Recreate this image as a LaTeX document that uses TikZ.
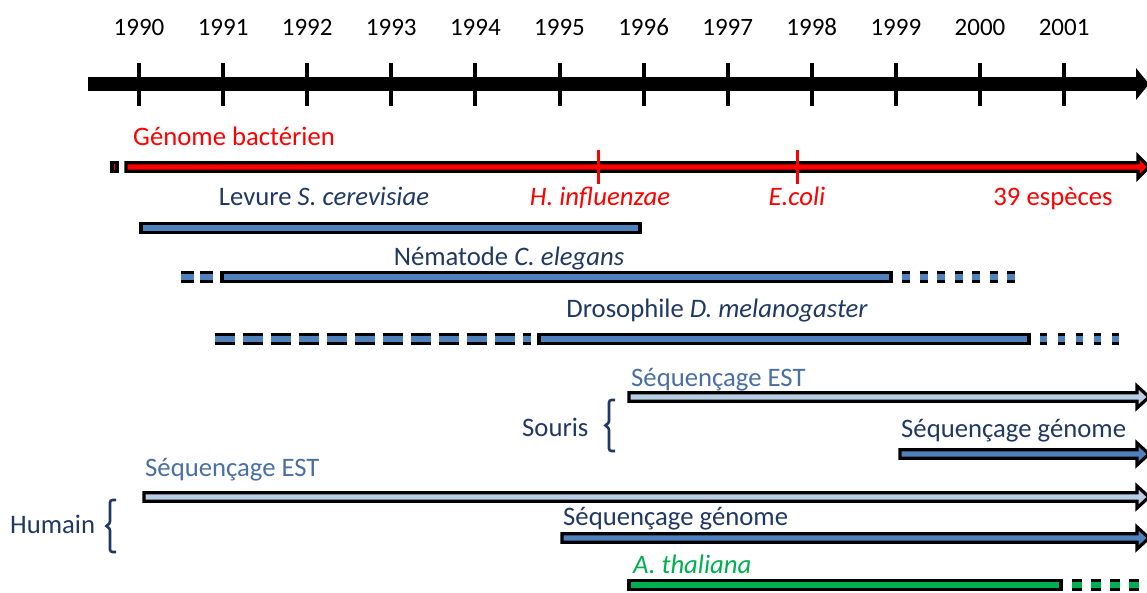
\documentclass[tikz,border=0pt]{standalone}
\usepackage{fontspec}
\setmainfont{Carlito}
\definecolor{navy}{HTML}{1F3864}
\definecolor{estblue}{HTML}{4A6FA5}
\definecolor{barblue}{HTML}{4F81BD}
\definecolor{lightblue}{HTML}{B9CDE5}
\definecolor{redc}{HTML}{FF0000}
\definecolor{greenc}{HTML}{00B050}
\newcommand{\solidbarx}[4]{\filldraw[fill=#1,draw=black,line width=3.2pt] (#2,#3-4.2) rectangle (#4,#3+4.2);}
\newcommand{\dashbarx}[5]{\draw[line width=3.2pt,double=#1,double distance=5.8pt,dash pattern=#5] (#2,#3) -- (#4,#3);}
\newcommand{\arrowbarx}[4]{\filldraw[fill=#1,draw=black,line width=3.2pt,miter limit=10] (#2,#3-4.2) -- (#4,#3-4.2) -- (#4,#3-11) -- (1149,#3) -- (#4,#3+11) -- (#4,#3+4.2) -- (#2,#3+4.2) -- cycle;}
\newcommand{\bracketx}[3]{% x, ytop, ybottom
  \draw[navy, line width=2.6pt, rounded corners=2.5pt] (#1+6,#2) -- (#1,#2) -- (#1,{(#2+#3)/2-2}) -- (#1-5,{(#2+#3)/2}) -- (#1,{(#2+#3)/2+2}) -- (#1,#3) -- (#1+6,#3);}
\begin{document}
\begin{tikzpicture}[x=1pt,y=-1pt,
  yearlbl/.style={font=\fontsize{25}{30}\selectfont, inner sep=0pt, anchor=base},
  lbl/.style={font=\fontsize{26.7}{32}\selectfont, inner sep=0pt}]
\useasboundingbox (0,0) rectangle (1147,592);
% timeline
\coordinate (tl0) at (88,84);
\coordinate (tl1) at (1137,84);
\draw[line width=14pt] (tl0) -- (tl1);
\fill (1136,68) -- (1149,84) -- (1136,100) -- cycle;
\foreach \y [count=\i from 0] in {1990,...,2001} {
  \pgfmathsetmacro{\xx}{139+84.1*\i}
  \draw[line width=4pt] (\xx,63) -- (\xx,106);
  \node[yearlbl] (y\y) at (\xx,35) {\y};
}
% bacterial genome
\node[lbl, text=redc, anchor=base west] (bact) at (133,145) {Génome bactérien};
\solidbarx{redc}{112}{167}{117}
\arrowbarx{redc}{126}{167}{1138}
\draw[redc, line width=3pt] (598,150) -- (598,184);
\draw[redc, line width=3pt] (797,150) -- (797,184);
\node[lbl, text=redc, anchor=base] (hinf) at (600,205) {\itshape H. influenzae};
\node[lbl, text=redc, anchor=base] (ecoli) at (797,205) {\itshape E.coli};
\node[lbl, text=redc, anchor=base] (esp) at (1053,205) {39 espèces};
% Levure
\node[lbl, text=navy, anchor=base] (lev) at (324,205) {Levure \itshape S. cerevisiae};
\solidbarx{barblue}{141}{228}{640}
% Nematode
\node[lbl, text=navy, anchor=base] (nem) at (509,265) {Nématode \itshape C. elegans};
\dashbarx{barblue}{181}{277}{213}{on 12.5pt off 6.5pt}
\solidbarx{barblue}{222}{277}{891}
\dashbarx{barblue}{902}{277}{1023}{on 8pt off 9.5pt}
% Drosophile
\node[lbl, text=navy, anchor=base] (dro) at (717,317) {Drosophile \itshape D. melanogaster};
\dashbarx{barblue}{215}{339}{531}{on 20pt off 8pt}
\solidbarx{barblue}{539}{339}{1029}
\dashbarx{barblue}{1040}{339}{1123}{on 7pt off 11pt}
% Souris
\node[lbl, text=estblue, anchor=base west] (sest) at (631,386) {Séquençage EST};
\arrowbarx{lightblue}{629}{397}{1137}
\node[lbl, text=navy, anchor=base west] (sgen) at (901,437) {Séquençage génome};
\arrowbarx{barblue}{900}{454}{1137}
\node[lbl, text=navy, anchor=base west] (souris) at (522,436) {Souris};
\bracketx{609}{400}{451}
% Humain
\node[lbl, text=estblue, anchor=base west] (hest) at (145,476) {Séquençage EST};
\arrowbarx{lightblue}{144}{497}{1137}
\node[lbl, text=navy, anchor=base west] (hgen) at (563,525) {Séquençage génome};
\arrowbarx{barblue}{562}{538}{1137}
\node[lbl, text=navy, anchor=base west] (humain) at (10,533) {Humain};
\bracketx{110}{500}{552}
% A. thaliana
\node[lbl, text=greenc, anchor=base west] (ath) at (633,573) {\itshape A. thaliana};
\solidbarx{greenc}{629}{585}{1061}
\dashbarx{greenc}{1072}{585}{1147}{on 10pt off 9pt}
\end{tikzpicture}
\end{document}
